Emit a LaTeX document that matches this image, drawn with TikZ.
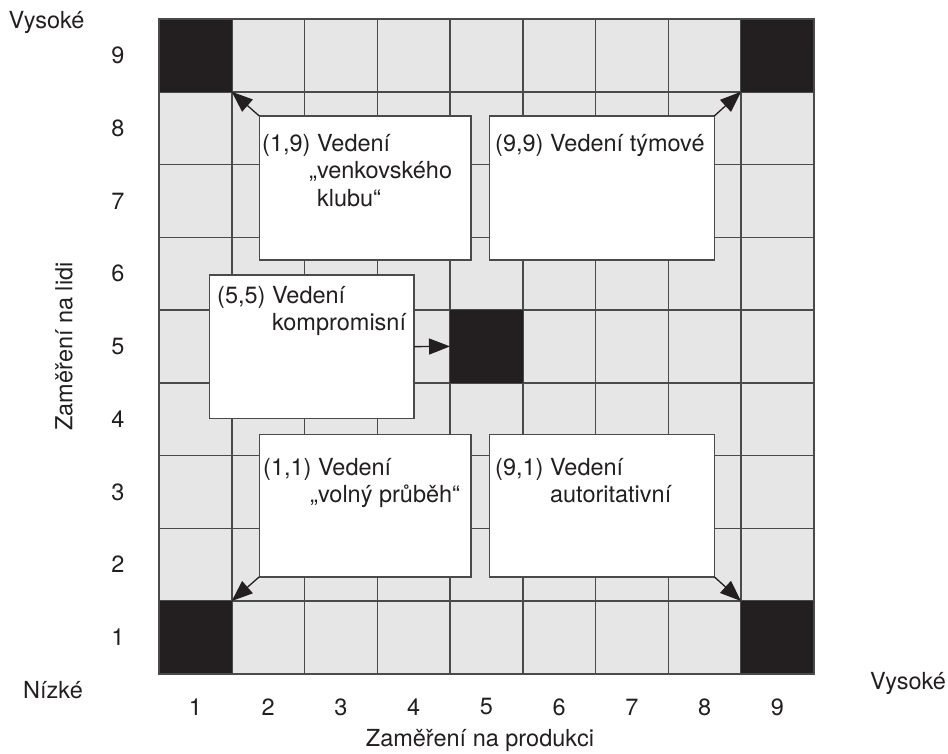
\documentclass[tikz,border=0pt]{standalone}
\usepackage{fontspec}
\setmainfont{TeX Gyre Heros}
\usetikzlibrary{arrows.meta}
\definecolor{ink}{HTML}{231F20}
\definecolor{cellgray}{HTML}{E6E6E6}
\definecolor{rule}{HTML}{4A4A4A}

\begin{document}
\begin{tikzpicture}[x=1pt,y=-1pt,
  every node/.style={font=\fontsize{23.5}{27.5}\selectfont, text=ink},
  gridline/.style={draw=rule, line width=1.5pt},
  darkcell/.style={fill=ink, minimum size=72.75pt, inner sep=0pt, outer sep=0pt},
  wbox/.style={draw=rule, fill=white, line width=1.5pt, inner sep=0pt, outer sep=0pt, anchor=north west},
  boxtext/.style={anchor=base west, inner sep=0pt},
  pointer/.style={draw=ink, line width=1.3pt, -{Triangle[length=21pt,width=16pt]}},
  ]
\useasboundingbox (0,0) rectangle (948,753);
\def\gstep{72.75}

% 9 x 9 grid of light cells
\fill[cellgray] (159,19) rectangle (813.75,673.75);
\foreach \i in {1,...,8} {
  \draw[gridline] ({159+\i*\gstep},19) -- ({159+\i*\gstep},673.75);
  \draw[gridline] (159,{19+\i*\gstep}) -- (813.75,{19+\i*\gstep});
}

% the five marked styles
\node[darkcell] (k19) at ({159+0.5*\gstep},{19+0.5*\gstep}) {};
\node[darkcell] (k99) at ({159+8.5*\gstep},{19+0.5*\gstep}) {};
\node[darkcell] (k11) at ({159+0.5*\gstep},{19+8.5*\gstep}) {};
\node[darkcell] (k91) at ({159+8.5*\gstep},{19+8.5*\gstep}) {};
\node[darkcell] (k55) at ({159+4.5*\gstep},{19+4.5*\gstep}) {};
\draw[gridline] (159,19) rectangle (813.75,673.75);

% description boxes
\node[wbox, minimum width=211.7pt, minimum height=144pt] (A) at (259.3,116) {};
\node[wbox, minimum width=225pt, minimum height=144pt] (B) at (489.3,116) {};
\node[wbox, minimum width=204.7pt, minimum height=143.3pt] (C) at (209.3,275) {};
\node[wbox, minimum width=211.7pt, minimum height=142.5pt] (D) at (259.3,434.3) {};
\node[wbox, minimum width=225pt, minimum height=142.5pt] (E) at (489.3,434.3) {};

\node[boxtext] (At) at (262,151) {\begin{tabular}[t]{@{}l@{\ }l@{}}(1,9) & Vedení\\ & \llap{„}venkovského\\ & klubu“\end{tabular}};
\node[boxtext] (Bt) at (495,151) {(9,9) Vedení týmové};
\node[boxtext] (Ct) at (217,303) {\begin{tabular}[t]{@{}l@{\ }l@{}}(5,5) & Vedení\\ & kompromisní\end{tabular}};
\node[boxtext] (Dt) at (263,475) {\begin{tabular}[t]{@{}l@{\ }l@{}}(1,1) & Vedení\\ & \llap{„}volný průběh“\end{tabular}};
\node[boxtext] (Et) at (495,475) {\begin{tabular}[t]{@{}l@{\ }l@{}}(9,1) & Vedení\\ & autoritativní\end{tabular}};

% pointers from the boxes to their cells
\draw[pointer] (A.north west) -- (k19.south east);
\draw[pointer] (B.north east) -- (k99.south west);
\draw[pointer] (D.south west) -- (k11.north east);
\draw[pointer] (E.south east) -- (k91.north west);
\draw[pointer] (C.east) -- (k55.west);

% axis scales
\foreach \n in {1,...,9} {
  \node (r\n) at (118,{19+(9.5-\n)*\gstep}) {\n};
  \node (c\n) at ({159+(\n-0.5)*\gstep},707) {\n};
}

% axis captions
\node (hiY) at (46.5,22) {Vysoké};
\node (loY) at (53,690) {Nízké};
\node (hiX) at (908,683) {Vysoké};
\node[rotate=90] (yl) at (64,346.5) {Zaměření na lidi};
\node (xl) at (480,740) {Zaměření na produkci};
\end{tikzpicture}
\end{document}
